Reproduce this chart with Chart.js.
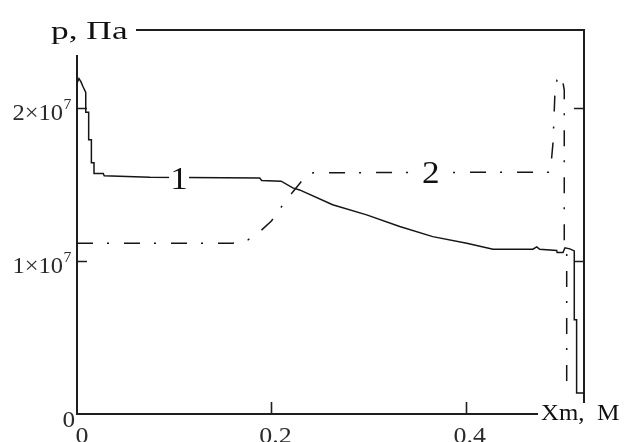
<!DOCTYPE html>
<html>
<head>
<meta charset="utf-8">
<script src="https://cdn.jsdelivr.net/npm/chart.js@4.4.1/dist/chart.umd.min.js"></script>
<style>
html,body{margin:0;padding:0;background:#fff;}
#wrap{width:624px;height:442px;position:relative;}
.pre{font-family:"Liberation Serif";position:absolute;left:-999px;top:-999px;}
</style>
</head>
<body>
<span class="pre">p, Па 0.2 1×10</span>
<div id="wrap"><canvas id="c" width="624" height="442"></canvas></div>
<script>
// ---- data (x in m, p in Pa) ----
const curve1X = [0, 0.002, 0.004, 0.006, 0.009, 0.009, 0.012, 0.012, 0.0148, 0.0148, 0.0175, 0.0175, 0.027, 0.028, 0.075, 0.188, 0.19, 0.21, 0.222, 0.229, 0.263, 0.298, 0.332, 0.366, 0.401, 0.428, 0.469, 0.473, 0.476, 0.4935, 0.494, 0.500, 0.502, 0.507, 0.5116, 0.5116, 0.514, 0.514, 0.5216];
const curve1P = [2.16e7, 2.19e7, 2.17e7, 2.14e7, 2.10e7, 1.97e7, 1.97e7, 1.79e7, 1.79e7, 1.64e7, 1.64e7, 1.57e7, 1.57e7, 1.555e7, 1.545e7, 1.54e7, 1.525e7, 1.52e7, 1.476e7, 1.463e7, 1.366e7, 1.30e7, 1.224e7, 1.158e7, 1.115e7, 1.076e7, 1.076e7, 1.091e7, 1.075e7, 1.067e7, 1.054e7, 1.054e7, 1.085e7, 1.078e7, 1.065e7, 0.615e7, 0.615e7, 0.137e7, 0.137e7];
const curve2X = [0, 0.16, 0.176, 0.188, 0.2, 0.21, 0.222, 0.235, 0.243, 0.487, 0.4897, 0.4907, 0.4917, 0.4938, 0.4986, 0.5013, 0.5013, 0.5038, 0.5038];
const curve2P = [1.115e7, 1.115e7, 1.137e7, 1.19e7, 1.26e7, 1.35e7, 1.45e7, 1.55e7, 1.575e7, 1.579e7, 1.77e7, 1.926e7, 2.10e7, 2.18e7, 2.213e7, 2.115e7, 1.137e7, 1.085e7, 0.13e7];
const xTicks = [0, 0.2, 0.4];
const xTickLabels = ["0", "0.2", "0.4"];
const yTicks = [0, 1e7, 2e7];
const yTickMantissa = ["0", "1\u00d710", "2\u00d710"];
const yTickExponent = ["", "7", "7"];
const curveLabels = ["1", "2"];
const curveLabelAt = [[0.105, 1.54e7], [0.364, 1.579e7]];
const xRange = [0, 0.5216];
const yRange = [0, 2.507e7];
const yAxisTitle = "p, \u041f\u0430";
const xAxisTitleA = "Xm,";
const xAxisTitleB = "M";

const toPts = (xs, ys) => xs.map((x, i) => ({x: x, y: ys[i]}));
const INK = '#151515';
const SERIF = '"Liberation Serif", "Times New Roman", Tinos, serif';

function txt(ctx, s, x, y, size, sx, align, color) {
  ctx.save();
  ctx.font = size + 'px ' + SERIF;
  ctx.fillStyle = color || INK;
  ctx.textBaseline = 'alphabetic';
  ctx.textAlign = 'left';
  const w = ctx.measureText(s).width * sx;
  let x0 = x;
  if (align === 'right') x0 = x - w;
  else if (align === 'center') x0 = x - w / 2;
  ctx.translate(x0, y);
  ctx.scale(sx, 1);
  ctx.fillText(s, 0, 0);
  ctx.restore();
  return w;
}

const framePlugin = {
  id: 'frame',
  beforeDatasetsDraw(chart) {
    const ctx = chart.ctx, a = chart.chartArea, sx = chart.scales.x, sy = chart.scales.y;
    ctx.save();
    ctx.strokeStyle = '#1e1e1e';
    ctx.lineWidth = 2;
    ctx.beginPath();
    ctx.rect(a.left, a.top, a.right - a.left, a.bottom - a.top);
    ctx.stroke();
    ctx.lineWidth = 1.6;
    ctx.beginPath();
    yTicks.forEach(v => {
      if (v === 0) return;
      const py = Math.round(sy.getPixelForValue(v)) + 0.5;
      ctx.moveTo(a.left, py); ctx.lineTo(a.left + 10, py);
      ctx.moveTo(a.right, py); ctx.lineTo(a.right - 10, py);
    });
    xTicks.forEach(v => {
      if (v === 0) return;
      const px = Math.round(sx.getPixelForValue(v)) + 0.5;
      ctx.moveTo(px, a.bottom); ctx.lineTo(px, a.bottom - 12);
    });
    ctx.stroke();
    ctx.restore();
  },
  afterDatasetsDraw(chart) {
    const ctx = chart.ctx, a = chart.chartArea, sx = chart.scales.x, sy = chart.scales.y;
    ctx.save();
    ctx.fillStyle = '#fff';
    ctx.fillRect(40, 8, 96, 47);
    ctx.fillRect(538, 403, 86, 39);
    curveLabels.forEach((s, i) => {
      const px = sx.getPixelForValue(curveLabelAt[i][0]);
      const py = sy.getPixelForValue(curveLabelAt[i][1]);
      ctx.fillRect(px - 10, py - 14, 20, 28);
    });
    ctx.restore();
    txt(ctx, yAxisTitle, 51, 39, 26, 1.36, 'left', '#111');
    txt(ctx, xAxisTitleA, 541, 420, 23, 1.08, 'left', '#111');
    txt(ctx, xAxisTitleB, 597, 420, 23, 1.1, 'left', '#111');
    curveLabels.forEach((s, i) => {
      const px = sx.getPixelForValue(curveLabelAt[i][0]);
      const py = sy.getPixelForValue(curveLabelAt[i][1]);
      txt(ctx, s, px, py + 11, 32, 1.1, 'center', '#111');
    });
    yTicks.forEach((v, i) => {
      const py = sy.getPixelForValue(v);
      if (yTickExponent[i]) {
        txt(ctx, yTickMantissa[i], 63, py + 12, 24, 1.02, 'right', '#2a2a2a');
        txt(ctx, yTickExponent[i], 63.5, py + 1, 15, 1.05, 'left', '#2a2a2a');
      } else {
        txt(ctx, yTickMantissa[i], 75, py + 12.5, 24, 1.05, 'right', '#2a2a2a');
      }
    });
    xTicks.forEach((v, i) => {
      const px = sx.getPixelForValue(v);
      txt(ctx, xTickLabels[i], px + (v === 0 ? 5 : 4), 443, 24, 1.08, 'center', '#2a2a2a');
    });
  }
};

function build() {
  new Chart(document.getElementById('c'), {
    type: 'scatter',
    data: {
      datasets: [
        {data: toPts(curve1X, curve1P), showLine: true, borderColor: INK, borderWidth: 1.5, pointRadius: 0, tension: 0, fill: false},
        {data: toPts(curve2X, curve2P), showLine: true, borderColor: INK, borderWidth: 1.5, pointRadius: 0, tension: 0, fill: false, borderDash: [16, 14, 2, 15]}
      ]
    },
    options: {
      responsive: false,
      animation: false,
      events: [],
      layout: {padding: {left: 77, right: 40, top: 30, bottom: 28}},
      plugins: {legend: {display: false}, tooltip: {enabled: false}, title: {display: false}},
      scales: {
        x: {type: 'linear', min: xRange[0], max: xRange[1], display: false},
        y: {type: 'linear', min: yRange[0], max: yRange[1], display: false}
      }
    },
    plugins: [framePlugin]
  });
}
if (document.fonts && document.fonts.load) {
  Promise.all([document.fonts.load('22px "Liberation Serif"')]).then(build, build);
} else { build(); }
</script>
</body>
</html>
